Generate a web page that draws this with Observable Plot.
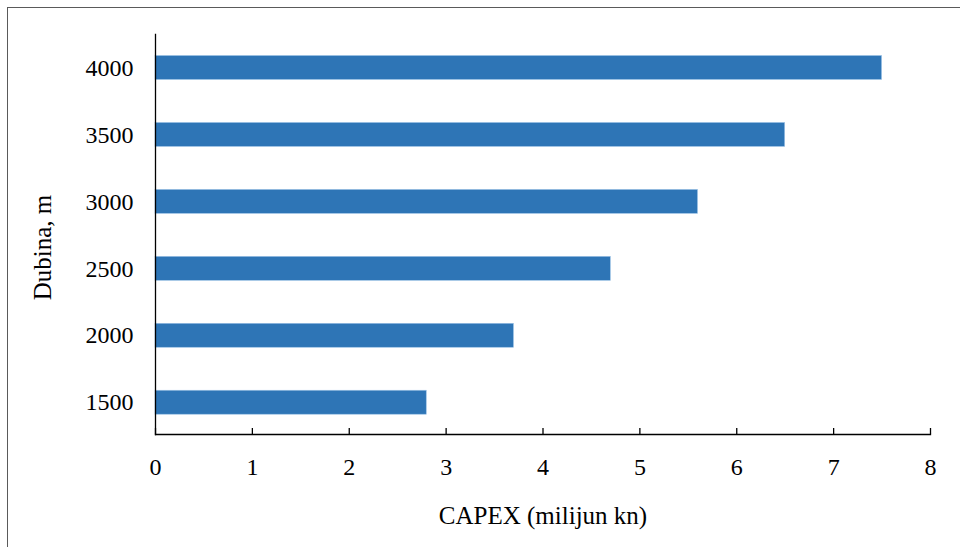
<!DOCTYPE html>
<html>
<head>
<meta charset="utf-8">
<script src="https://cdn.jsdelivr.net/npm/d3@7"></script>
<script src="https://cdn.jsdelivr.net/npm/@observablehq/plot@0.6"></script>
<style>
  html, body { margin: 0; padding: 0; background: #fff; overflow: hidden; }
  #wrap { position: relative; width: 960px; height: 547px; }
  #border { position: absolute; left: 7px; top: 7px; width: 970px; height: 560px; border: 1.5px solid #5a5a5a; box-sizing: border-box; pointer-events: none; }
  #chart { position: absolute; left: 0; top: 0; }
</style>
</head>
<body>
<div id="wrap"><div id="border"></div><div id="chart"></div></div>
<script>
const depths = ["4000", "3500", "3000", "2500", "2000", "1500"];
const capex = [7.5, 6.5, 5.6, 4.7, 3.7, 2.8];
const xTicks = [0, 1, 2, 3, 4, 5, 6, 7, 8];
const xLabel = "CAPEX (milijun kn)";
const yLabel = "Dubina, m";

const data = depths.map((d, i) => ({depth: d, value: capex[i]}));

const chart = Plot.plot({
  width: 960,
  height: 547,
  marginLeft: 155,
  marginRight: 30,
  marginTop: 34,
  marginBottom: 113,
  style: {fontFamily: "'Liberation Serif', 'Times New Roman', serif", fontSize: "24px", color: "#000", background: "transparent", overflow: "visible"},
  x: {domain: [0, 8], label: xLabel, labelArrow: "none"},
  y: {domain: depths, range: [34, 435.7], round: false, paddingInner: 0.642, paddingOuter: 0.321, label: null},
  marks: [
    Plot.barX(data, {x: "value", y: "depth", fill: "#2E75B6", stroke: "#9DC3E6", strokeWidth: 0.6}),
    Plot.frame({anchor: "bottom", stroke: "#000", strokeWidth: 1.3}),
    Plot.frame({anchor: "left", stroke: "#000", strokeWidth: 1.3}),
    Plot.axisX(xTicks, {tickSize: 0, tickPadding: 23, label: null, fontSize: 24}),
    Plot.axisX(xTicks, {tickSize: -6, tickFormat: () => "", label: null, strokeWidth: 1.3}),
    Plot.axisX({ticks: [], tickSize: 0, label: xLabel, labelArrow: "none", labelAnchor: "center", labelOffset: 89, fontSize: 25}),
    Plot.axisY({tickSize: 0, tickPadding: 22, label: null, fontSize: 24}),
    Plot.text([yLabel], {frameAnchor: "left", text: d => d, rotate: -90, dx: -113, dy: 13, fontSize: 25, textAnchor: "middle", lineAnchor: "middle", fill: "#000"})
  ]
});
document.getElementById("chart").appendChild(chart);
</script>
</body>
</html>
